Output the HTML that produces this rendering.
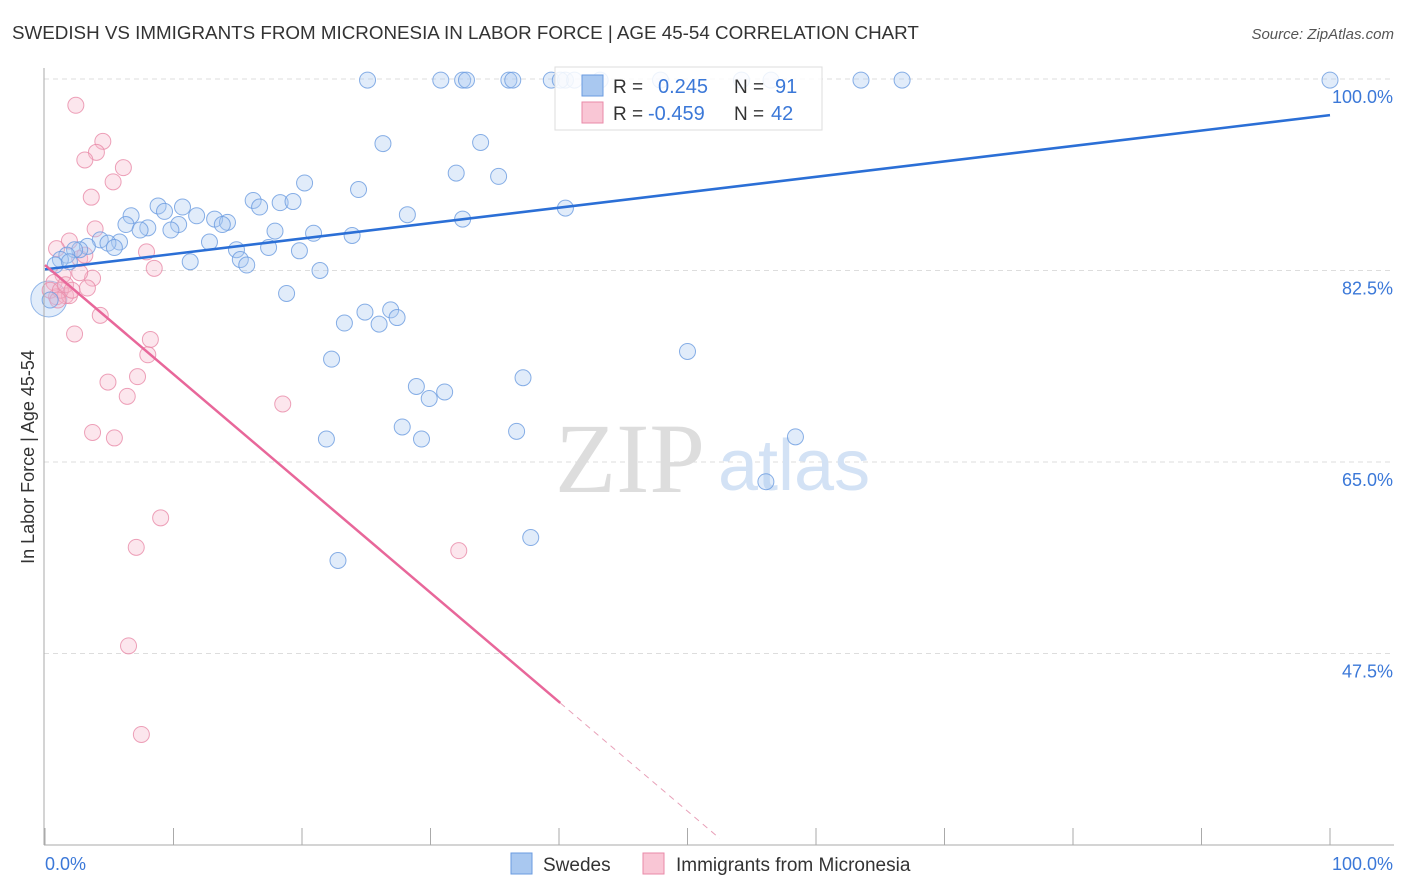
<!DOCTYPE html>
<html><head><meta charset="utf-8"><style>
body{margin:0;background:#fff;font-family:"Liberation Sans",sans-serif;}
svg{display:block}
</style></head><body>
<svg width="1406" height="892" xmlns="http://www.w3.org/2000/svg">
<text x="12" y="39" font-size="18.8" fill="#333">SWEDISH VS IMMIGRANTS FROM MICRONESIA IN LABOR FORCE | AGE 45-54 CORRELATION CHART</text>
<text x="1394" y="39" font-size="15" fill="#555" font-style="italic" text-anchor="end">Source: ZipAtlas.com</text>
<g id="grid"></g>
<text x="555" y="492" font-family="Liberation Serif,serif" font-size="100" fill="#ddd">ZIP</text>
<text x="718" y="490" font-size="72" fill="#d3e2f5">atlas</text>
<g id="pts"></g>
<g id="lines"></g>
<line x1="44" y1="68" x2="44" y2="845" stroke="#aaa"/>
<line x1="44" y1="845" x2="1394" y2="845" stroke="#aaa"/>
<g id="ticks"></g>
<text x="45" y="870" font-size="18" fill="#3b78d8">0.0%</text>
<text x="1393" y="870" font-size="18" fill="#3b78d8" text-anchor="end">100.0%</text>
<text transform="translate(34,457) rotate(-90)" font-size="18" fill="#333" text-anchor="middle">In Labor Force | Age 45-54</text>
<g>
<rect x="555" y="67" width="267" height="63" fill="#fff" fill-opacity="0.85" stroke="#ddd"/>
<rect x="582" y="75" width="21" height="21" fill="#a9c8f0" stroke="#6a9be0"/>
<rect x="582" y="102" width="21" height="21" fill="#f9c6d5" stroke="#e98aa8"/>
<text x="613" y="93" font-size="19" fill="#333">R = </text><text x="658" y="93" font-size="20" fill="#3b78d8">0.245</text>
<text x="734" y="93" font-size="19" fill="#333">N = </text><text x="775" y="93" font-size="20" fill="#3b78d8">91</text>
<text x="613" y="120" font-size="19" fill="#333">R = </text><text x="648" y="120" font-size="20" fill="#3b78d8">-0.459</text>
<text x="734" y="120" font-size="19" fill="#333">N = </text><text x="771" y="120" font-size="20" fill="#3b78d8">42</text>
</g>
<g>
<rect x="511" y="853" width="21" height="21" fill="#a9c8f0" stroke="#6a9be0"/>
<text x="543" y="871" font-size="19" fill="#333">Swedes</text></g>
<g>
<rect x="643" y="853" width="21" height="21" fill="#f9c6d5" stroke="#e98aa8"/>
<text x="676" y="871" font-size="19" fill="#333">Immigrants from Micronesia</text></g>
</svg>
<script>
const yTicks=[100,82.5,65,47.5];
const yTickLabels=["100.0%","82.5%","65.0%","47.5%"];
const blueX=[25.1,30.8,32.5,32.8,36.1,36.4,39.4,40.5,41.2,47.9,54.2,56.5,63.5,66.7,100,40.1,43.2,26.3,33.9,32.0,35.3,24.4,20.2,16.2,18.3,19.3,16.7,8.8,10.7,9.3,6.7,11.8,13.2,14.2,13.8,10.4,6.3,8.0,7.4,9.8,28.2,32.5,40.5,20.9,17.9,23.9,12.8,5.8,4.3,4.9,3.3,5.4,2.7,2.3,1.7,1.2,14.9,17.4,19.8,15.2,15.7,11.3,21.4,18.8,24.9,26.9,23.3,26.0,27.4,22.3,50.0,37.2,28.9,31.1,29.9,27.8,21.9,29.3,36.7,58.4,56.1,37.8,22.8,0.4,0.8,1.9];
const blueY=[99.9,99.9,99.9,99.9,99.9,99.9,99.9,99.9,99.9,99.9,99.9,99.9,99.9,99.9,99.9,99.9,99.9,94.1,94.2,91.4,91.1,89.9,90.5,88.9,88.7,88.8,88.3,88.4,88.3,87.9,87.5,87.5,87.2,86.9,86.7,86.7,86.7,86.4,86.2,86.2,87.6,87.2,88.2,85.9,86.1,85.7,85.1,85.1,85.3,85.0,84.7,84.6,84.4,84.4,83.9,83.5,84.4,84.6,84.3,83.5,83.0,83.3,82.5,80.4,78.7,78.9,77.7,77.6,78.2,74.4,75.1,72.7,71.9,71.4,70.8,68.2,67.1,67.1,67.8,67.3,63.2,58.1,56.0,79.8,83.0,83.3];
const pinkX=[2.4,4.5,4.0,3.1,6.1,5.3,3.6,3.9,1.9,0.9,7.9,8.5,3.7,2.7,1.4,3.3,0.7,0.9,1.6,1.9,4.3,2.3,8.2,8.0,7.2,4.9,6.4,18.5,3.7,5.4,9.0,7.1,32.2,6.5,7.5,0.4,1.2,2.7,1.6,1.0,2.1,3.1];
const pinkY=[97.6,94.3,93.3,92.6,91.9,90.6,89.2,86.3,85.2,84.5,84.2,82.7,81.8,82.3,82.1,80.9,81.4,80.1,80.2,80.2,78.4,76.7,76.2,74.8,72.8,72.3,71.0,70.3,67.7,67.2,59.9,57.2,56.9,48.2,40.1,80.7,80.7,83.6,81.2,79.8,80.7,83.9];
const blueTrend=[82.6,96.7];   // y at x=0, x=100
const pinkTrend=[83.0,-0.998]; // intercept, slope
const NS="http://www.w3.org/2000/svg";
const sx=v=>45+v*12.85, sy=v=>79+(100-v)*10.943;
function mk(t,a,p){const e=document.createElementNS(NS,t);for(const k in a)e.setAttribute(k,a[k]);p.appendChild(e);return e;}
const grid=document.getElementById('grid');
yTicks.forEach((t,i)=>{
 const l=mk('line',{x1:44,x2:1394,y1:sy(t),y2:sy(t),stroke:'#ddd','stroke-dasharray':'5,4'},grid);
 
 
 const tx=mk('text',{x:1393,y:sy(t)+24,'font-size':18,fill:'#3b78d8','text-anchor':'end'},grid);
 tx.textContent=yTickLabels[i];
 
 
});
const ticks=document.getElementById('ticks');
for(let i=0;i<=10;i++){
 const l=mk('line',{x1:sx(i*10),x2:sx(i*10),y1:828,y2:845,stroke:'#aaa'},ticks);
 
 
}
const pts=document.getElementById('pts');
const big=mk('circle',{cx:sx(0.3),cy:sy(79.9),r:18,fill:'#a9c8f0','fill-opacity':0.35,stroke:'#6a9be0','stroke-opacity':0.7},pts);


pinkX.forEach((x,i)=>{
 const c=mk('circle',{cx:sx(x),cy:sy(pinkY[i]),r:8,fill:'#f6b8cb','fill-opacity':0.35,stroke:'#e98aa8','stroke-opacity':0.8},pts);
 
 
});
blueX.forEach((x,i)=>{
 const c=mk('circle',{cx:sx(x),cy:sy(blueY[i]),r:8,fill:'#a9c8f0','fill-opacity':0.35,stroke:'#6a9be0','stroke-opacity':0.8},pts);
 
 
});
const lines=document.getElementById('lines');
const bl=mk('line',{x1:sx(0),y1:sy(blueTrend[0]),x2:sx(100),y2:sy(blueTrend[1]),stroke:'#2b6fd6','stroke-width':2.5},lines);


const pf=x=>pinkTrend[0]+pinkTrend[1]*x;
const pl=mk('line',{x1:sx(0),y1:sy(pf(0)),x2:sx(40.1),y2:sy(pf(40.1)),stroke:'#e8679a','stroke-width':2.5},lines);


const pd=mk('line',{x1:sx(40.1),y1:sy(pf(40.1)),x2:sx(52.5),y2:sy(pf(52.5)),stroke:'#e8a0b8','stroke-width':1,'stroke-dasharray':'6,5'},lines);


</script>
</body></html>
